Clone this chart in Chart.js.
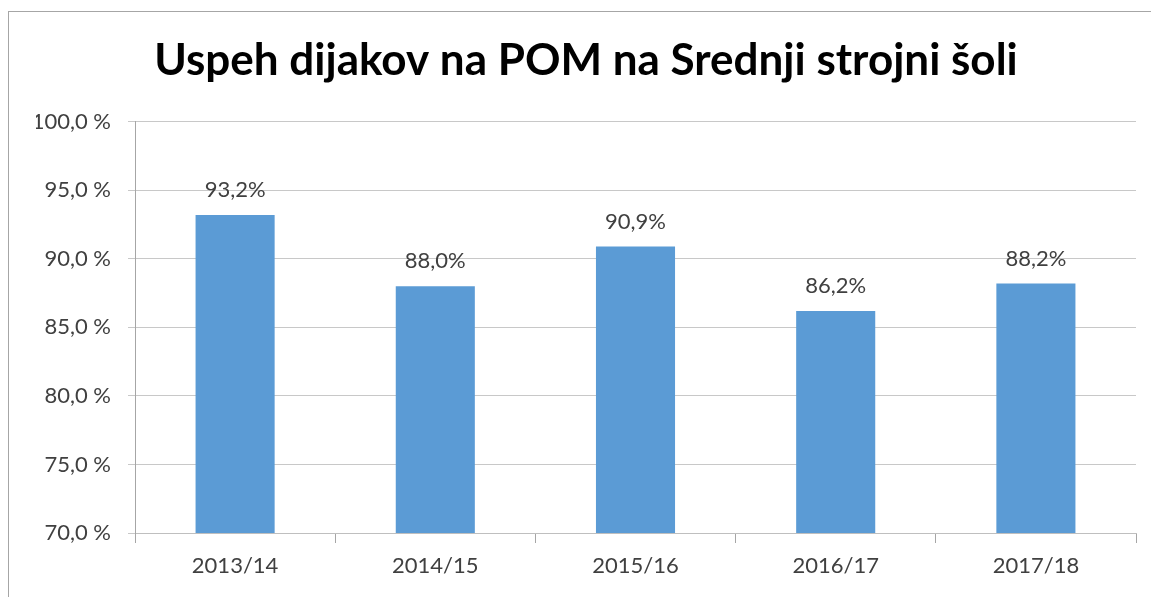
<!DOCTYPE html>
<html lang="sl">
<head>
    <meta charset="UTF-8">
    <title>Uspeh dijakov na POM</title>
    <script src="https://cdn.jsdelivr.net/npm/chart.js@4.4.0/dist/chart.umd.min.js"></script>
    <style>
        html, body { margin: 0; padding: 0; background: #fff; overflow: hidden; }
        .frame {
            position: absolute; left: 8px; top: 11px;
            width: 1300px; height: 800px;
            border: 1px solid #a6a6a6;
        }
        .chart-box { position: absolute; left: 0; top: 0; width: 1151px; height: 597px; }
    </style>
</head>
<body>
    <div class="frame"></div>
    <div class="chart-box"><canvas id="chart"></canvas></div>
    <script>
        // data
        const titleText = 'Uspeh dijakov na POM na Srednji strojni šoli';
        const years = ['2013/14', '2014/15', '2015/16', '2016/17', '2017/18'];
        const successRate = [93.2, 88.0, 90.9, 86.2, 88.2];
        const yMin = 70;
        const yMax = 100;
        const yStep = 5;

        const fmt = v => v.toFixed(1).replace('.', ',');

        // value labels above the bars
        const barLabels = {
            id: 'barLabels',
            afterDatasetsDraw(chart) {
                const c = chart.ctx;
                const meta = chart.getDatasetMeta(0);
                c.save();
                c.font = '22px Lato';
                c.fillStyle = '#404040';
                c.textAlign = 'center';
                c.textBaseline = 'middle';
                meta.data.forEach((bar, i) => {
                    c.fillText(fmt(successRate[i]) + '%', bar.x, bar.y - 25);
                });
                c.restore();
            }
        };

        new Chart(document.getElementById('chart'), {
            type: 'bar',
            data: {
                labels: years,
                datasets: [{
                    data: successRate,
                    backgroundColor: '#5b9bd5',
                    barPercentage: 0.395,
                    categoryPercentage: 1.0
                }]
            },
            options: {
                responsive: true,
                maintainAspectRatio: false,
                animation: false,
                layout: { padding: { left: 36, right: 15, top: 0, bottom: 0 } },
                plugins: {
                    legend: { display: false },
                    tooltip: { enabled: false },
                    title: {
                        display: true,
                        text: titleText,
                        color: '#000',
                        font: { family: 'Lato', size: 44, weight: 'bold', lineHeight: 1.2 },
                        padding: { top: 34, bottom: 35 }
                    }
                },
                scales: {
                    x: {
                        grid: {
                            drawOnChartArea: false,
                            color: '#a6a6a6',
                            tickLength: 10
                        },
                        border: { color: '#bfbfbf' },
                        ticks: {
                            color: '#404040',
                            font: { family: 'Lato', size: 22 },
                            padding: 10
                        },
                        afterFit(scale) { scale.height = 64; }
                    },
                    y: {
                        min: yMin,
                        max: yMax,
                        grid: { color: '#c8c8c8', tickLength: 7 },
                        border: { color: '#a6a6a6' },
                        ticks: {
                            stepSize: yStep,
                            color: '#404040',
                            font: { family: 'Lato', size: 22 },
                            padding: 17,
                            callback: v => fmt(v) + ' %'
                        },
                        afterFit(scale) { scale.width = 99; }
                    }
                }
            },
            plugins: [barLabels]
        });
    </script>
</body>
</html>
